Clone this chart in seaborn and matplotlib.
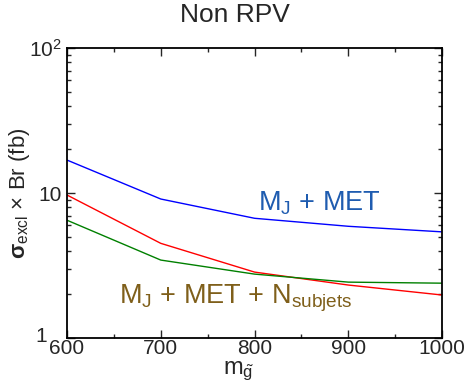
import matplotlib
matplotlib.use("Agg")
import matplotlib.pyplot as plt
import matplotlib.ticker as mticker
import matplotlib.transforms as mtransforms
import seaborn as sns
import pandas as pd

# gluino mass points
masses = [600, 700, 800, 900, 1000]
# excluded cross section x Br (fb)
mj_met = [16.9, 9.1, 6.7, 5.9, 5.4]
mj_met_red = [9.7, 4.5, 2.85, 2.32, 1.98]
mj_met_nsub = [6.5, 3.45, 2.76, 2.43, 2.39]

series_names = ["blue", "red", "green"]
series_colors = {"blue": "#0000ff", "red": "#ff0000", "green": "#008000"}

df = pd.concat([
    pd.DataFrame({"m": masses, "sigma": vals, "series": name})
    for name, vals in zip(series_names, [mj_met, mj_met_red, mj_met_nsub])
])

sns.set_style("ticks")
plt.rcParams["font.family"] = ["Liberation Sans", "DejaVu Sans"]
plt.rcParams["mathtext.fontset"] = "custom"
plt.rcParams["mathtext.rm"] = "Liberation Sans"
plt.rcParams["mathtext.it"] = "Liberation Sans:italic"
plt.rcParams["mathtext.bf"] = "Liberation Sans:bold"

fig = plt.figure(figsize=(4.65, 3.85), dpi=100)
ax = fig.add_axes([0.144, 0.122, 0.807, 0.753])

sns.lineplot(data=df, x="m", y="sigma", hue="series", palette=series_colors,
             linewidth=1.0, legend=False, ax=ax)

ax.set_yscale("log")
ax.set_xlim(600, 1000)
ax.set_ylim(1, 100)
ax.set_xticks([600, 700, 800, 900, 1000])
ax.xaxis.set_minor_locator(mticker.MultipleLocator(50))
ax.yaxis.set_major_locator(mticker.FixedLocator([1, 10, 100]))
ax.yaxis.set_major_formatter(mticker.FixedFormatter(["1", "10", r"10$^{2}$"]))
ax.yaxis.set_minor_locator(mticker.LogLocator(base=10, subs=range(2, 10)))
ax.yaxis.set_minor_formatter(mticker.NullFormatter())

ax.tick_params(which="both", direction="in", top=True, right=True, labelsize=15)
ax.tick_params(axis="x", pad=1)
ax.tick_params(axis="y", pad=4)
ax.tick_params(which="major", length=6, width=1)
ax.tick_params(which="minor", length=3, width=1)
for sp in ax.spines.values():
    sp.set_linewidth(1.3)
    sp.set_color("black")

# the "1" label sits further left and a bit higher in the original
fig.canvas.draw()
lab1 = ax.yaxis.get_major_ticks()[0].label1
lab1.set_transform(lab1.get_transform() +
                   mtransforms.ScaledTranslation(-0.14, 0.04, fig.dpi_scale_trans))

ax.set_xlabel(r"m$_{\tilde{\rm g}}$", fontsize=17)
ax.xaxis.set_label_coords(0.456, -0.075)
ax.set_ylabel(r"$\mathbf{σ}_{\rm excl}$ × Br (fb)", fontsize=16)
ax.yaxis.set_label_coords(-0.093, 0.5)

ax.text(804, 8.5, r"M$_{\rm J}$ + MET", color="#1f5cb0", fontsize=19.5, va="center")
ax.text(656, 1.89, r"M$_{\rm J}$ + MET + N$_{\rm subjets}$", color="#7f5f1a",
        fontsize=19.5, va="center")

fig.text(235 / 465, 1 - 15 / 385, "Non RPV", fontsize=19, ha="center", va="center")

fig.savefig("out.png", dpi=100)
